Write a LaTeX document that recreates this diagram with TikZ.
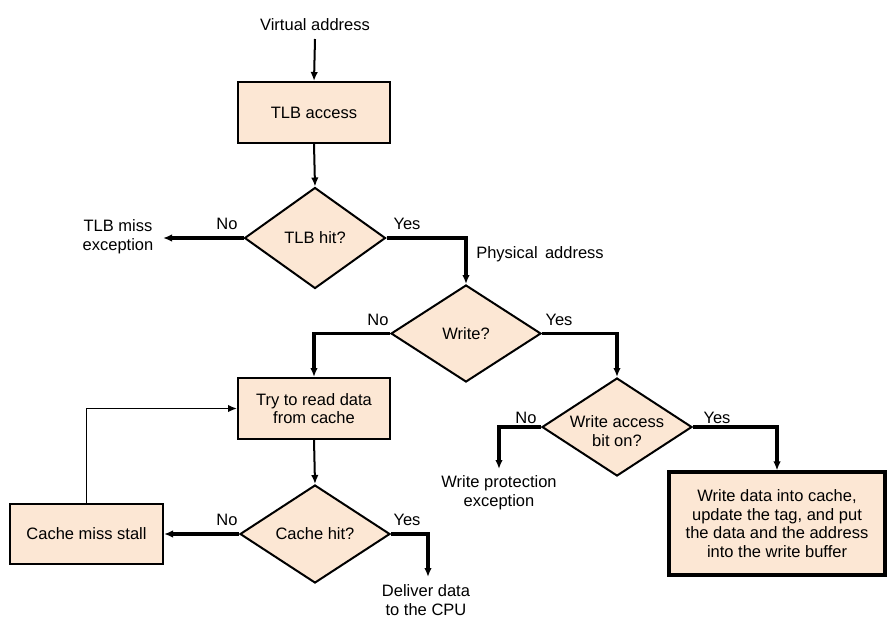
\documentclass[tikz,border=0pt]{standalone}
\usepackage{fontspec}
\setmainfont{Liberation Sans}
\usetikzlibrary{shapes.geometric,arrows.meta}
\definecolor{peach}{RGB}{252,231,212}
\begin{document}
\begin{tikzpicture}[x=1pt,y=-1pt,
  every node/.style={font=\fontsize{16.5}{18.7}\selectfont, align=center},
  box/.style={draw, line width=2pt, fill=peach, minimum width=152pt, minimum height=61pt, inner sep=0pt},
  dec/.style={draw, diamond, line width=2pt, fill=peach, inner sep=0pt},
  txt/.style={inner sep=0pt},
  tip/.style={-{Latex[length=9pt,width=7.5pt]}},
  conn/.style={line width=3.2pt, tip},
  mid/.style={line width=2pt, tip},
  thin/.style={line width=1.5pt, tip}
]
\useasboundingbox (0,0) rectangle (890,630);

% nodes
\node[txt] (va) at (315,25) {Virtual address};
\coordinate (vaend) at (315,39);
\node[box] (tlb) at (314,112.5) {TLB access};
\node[dec, minimum width=141pt, minimum height=101pt] (tlbhit) at (315,238) {TLB hit?};
\node[txt] (tlbmiss) at (118,237) {TLB miss\\exception};
\coordinate (tlbmissend) at (163,238);
\node[txt] (phys) at (540,254) {Physical\, address};
\node[dec, minimum width=150pt, minimum height=97pt] (write) at (466,333.5) {Write?};
\node[box] (read) at (314,408.5) {Try to read data\\from cache};
\node[dec, minimum width=150pt, minimum height=98pt] (cachehit) at (315,534) {Cache hit?};
\node[box, minimum width=153pt, minimum height=60pt] (stall) at (86.5,534) {Cache miss stall};
\node[txt] (deliver) at (426,600) {Deliver data\\to the CPU};
\coordinate (deliverend) at (428,577);
\node[dec, minimum width=150pt, minimum height=98pt] (wab) at (617,427) {};
\node[txt] (wabtxt) at (617,431) {Write access\\bit on?};
\node[txt] (wprot) at (499,493) {Write protection\\exception};
\coordinate (wprotend) at (499,469);
\node[box, line width=3.2pt, minimum width=216pt, minimum height=103pt] (wdata) at (777,523.5) {Write data into cache,\\update the tag, and put\\the data and the address\\into the write buffer};

% labels
\node[txt] (l1) at (227,224) {No};
\node[txt] (l2) at (407,224) {Yes};
\node[txt] (l3) at (378,320) {No};
\node[txt] (l4) at (559,320) {Yes};
\node[txt] (l5) at (526,418) {No};
\node[txt] (l6) at (717,418) {Yes};
\node[txt] (l7) at (227,520) {No};
\node[txt] (l8) at (407,520) {Yes};

% connectors
\draw[mid] (vaend) -- (tlb.north);
\draw[mid] (tlb.south) -- (tlbhit.north);
\draw[conn] (tlbhit.west) -- (tlbmissend);
\draw[conn] (tlbhit.east) -| (write.north);
\draw[conn] (write.west) -| (read.north);
\draw[conn] (write.east) -| (wab.north);
\draw[mid] (read.south) -- (cachehit.north);
\draw[conn] (cachehit.west) -- (stall.east);
\draw[thin] (stall.north) |- (read.west);
\draw[conn] (cachehit.east) -| (deliverend);
\draw[conn] (wab.west) -| (wprotend);
\draw[conn] (wab.east) -| (wdata.north);
\end{tikzpicture}
\end{document}
